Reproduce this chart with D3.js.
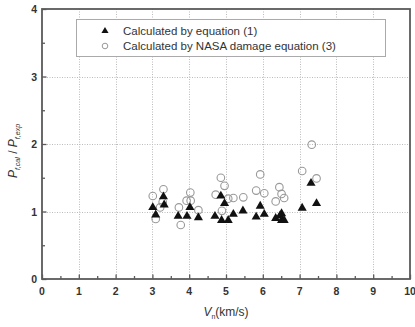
<!DOCTYPE html>
<html>
<head>
<meta charset="utf-8">
<script src="https://cdn.jsdelivr.net/npm/d3@7"></script>
<style>
  body { margin: 0; background: #fff; }
  svg { display: block; font-family: "Liberation Sans", Arial, sans-serif; }
</style>
</head>
<body>
<div id="chart"></div>
<script>
// Calculated by equation (1): [Vn, Pcal/Pexp]
const eqPoints = [
    [3.01, 1.06], [3.09, 0.95], [3.30, 1.22], [3.32, 1.10], [3.70, 0.93],
    [3.94, 0.93], [4.02, 1.06], [4.25, 0.91], [4.70, 0.93], [4.86, 1.23],
    [4.96, 1.12], [4.88, 0.87], [5.06, 0.87], [5.20, 0.96], [5.46, 1.01],
    [5.82, 0.92], [5.93, 1.08], [6.04, 0.96], [6.35, 0.90], [6.47, 0.94],
    [6.51, 0.97], [6.51, 0.87], [6.58, 0.87], [7.07, 1.05], [7.31, 1.42],
    [7.46, 1.12]
];
// Calculated by NASA damage equation (3)
const nasaPoints = [
    [3.01, 1.23], [3.09, 0.89], [3.21, 1.06], [3.28, 1.14], [3.30, 1.33],
    [3.72, 1.06], [3.77, 0.80], [3.93, 1.16], [4.03, 1.28], [4.04, 1.16],
    [4.25, 1.02], [4.72, 1.25], [4.86, 1.50], [4.96, 1.38], [4.89, 1.01],
    [5.06, 1.19], [5.20, 1.20], [5.47, 1.21], [5.82, 1.31], [5.93, 1.55],
    [6.04, 1.27], [6.35, 1.15], [6.45, 1.36], [6.51, 1.26], [6.58, 1.20],
    [7.07, 1.60], [7.33, 1.99], [7.46, 1.49]
];
const xTicks = [0, 1, 2, 3, 4, 5, 6, 7, 8, 9, 10];
const yTicks = [0, 1, 2, 3, 4];
const legendLabels = ["Calculated by equation (1)", "Calculated by NASA damage equation (3)"];

const width = 415, height = 327;
const marginLeft = 42, marginRight = 5, marginTop = 9, marginBottom = 48;
const frameColor = "#5a5a5a";
const textColor = "#333";

const x = d3.scaleLinear().domain([0, 10]).range([marginLeft, width - marginRight]);
const y = d3.scaleLinear().domain([0, 4]).range([height - marginBottom, marginTop]);

const svg = d3.select("#chart").append("svg")
    .attr("width", width)
    .attr("height", height)
    .attr("viewBox", [0, 0, width, height]);

// dotted grid
svg.append("g")
    .attr("stroke", "#bbb")
    .attr("stroke-width", 1)
    .attr("stroke-dasharray", "1,1.5")
    .call(g => g.append("g")
        .selectAll("line")
        .data(xTicks.slice(1, -1))
        .join("line")
        .attr("x1", d => Math.round(x(d)) + 0.5)
        .attr("x2", d => Math.round(x(d)) + 0.5)
        .attr("y1", y(4))
        .attr("y2", y(0)))
    .call(g => g.append("g")
        .selectAll("line")
        .data(yTicks.slice(1, -1))
        .join("line")
        .attr("y1", d => Math.round(y(d)) + 0.5)
        .attr("y2", d => Math.round(y(d)) + 0.5)
        .attr("x1", x(0))
        .attr("x2", x(10)));

// bottom axis, ticks pointing inward
const xAxis = svg.append("g")
    .attr("transform", `translate(0,${y(0)})`);
xAxis.call(d3.axisBottom(x).tickValues(d3.range(0, 10.01, 0.5)).tickSize(-4).tickFormat(""))
    .call(g => g.select(".domain").remove())
    .call(g => g.selectAll(".tick line").attr("stroke", frameColor).attr("stroke-width", 1.3)
        .attr("y2", d => Number.isInteger(d) ? -4.5 : -3));
svg.append("g")
    .attr("fill", textColor)
    .attr("font-size", 10.5)
    .attr("font-weight", "bold")
    .attr("text-anchor", "middle")
    .selectAll("text")
    .data(xTicks)
    .join("text")
    .attr("x", d => x(d))
    .attr("y", y(0) + 16)
    .text(d => d);

// left axis
const yAxis = svg.append("g")
    .attr("transform", `translate(${x(0)},0)`);
yAxis.call(d3.axisLeft(y).tickValues(d3.range(0, 4.01, 0.5)).tickSize(-4).tickFormat(""))
    .call(g => g.select(".domain").remove())
    .call(g => g.selectAll(".tick line").attr("stroke", frameColor).attr("stroke-width", 1.3)
        .attr("x2", d => Number.isInteger(d) ? 4.5 : 3));
svg.append("g")
    .attr("fill", textColor)
    .attr("font-size", 10.5)
    .attr("font-weight", "bold")
    .attr("text-anchor", "end")
    .selectAll("text")
    .data(yTicks)
    .join("text")
    .attr("x", x(0) - 5)
    .attr("y", d => y(d) + 4)
    .text(d => d);

// frame
svg.append("rect")
    .attr("x", x(0))
    .attr("y", y(4))
    .attr("width", x(10) - x(0))
    .attr("height", y(0) - y(4))
    .attr("fill", "none")
    .attr("stroke", frameColor)
    .attr("stroke-width", 1.8);

// markers
const tri = d3.symbol().type(d3.symbolTriangle).size(36);
svg.append("g")
    .attr("fill", "none")
    .attr("stroke", "#999")
    .attr("stroke-width", 1.1)
    .selectAll("circle")
    .data(nasaPoints)
    .join("circle")
    .attr("cx", d => x(d[0]))
    .attr("cy", d => y(d[1]))
    .attr("r", 3.8);

svg.append("g")
    .attr("fill", "#111")
    .selectAll("path")
    .data(eqPoints)
    .join("path")
    .attr("transform", d => `translate(${x(d[0])},${y(d[1])})`)
    .attr("d", tri);

// legend
const legend = svg.append("g");
legend.append("rect")
    .attr("x", 76.5)
    .attr("y", 19.5)
    .attr("width", 309)
    .attr("height", 37)
    .attr("fill", "#fff")
    .attr("stroke", "#aaa")
    .attr("stroke-width", 1);
legend.append("path")
    .attr("transform", "translate(105,31)")
    .attr("fill", "#111")
    .attr("d", d3.symbol().type(d3.symbolTriangle).size(22));
legend.append("circle")
    .attr("cx", 105)
    .attr("cy", 46)
    .attr("r", 2.8)
    .attr("fill", "none")
    .attr("stroke", "#999")
    .attr("stroke-width", 1);
legend.selectAll("text")
    .data(legendLabels)
    .join("text")
    .attr("x", 123)
    .attr("y", (d, i) => 35 + i * 15)
    .attr("fill", textColor)
    .attr("font-size", 11.5)
    .text(d => d);

// axis titles
const xt = svg.append("text")
    .attr("x", x(5))
    .attr("y", 316)
    .attr("text-anchor", "middle")
    .attr("fill", textColor)
    .attr("font-size", 12);
xt.append("tspan").attr("font-style", "italic").text("V");
xt.append("tspan").attr("font-size", 7).attr("dy", 3).text("n");
xt.append("tspan").attr("dy", -3).text("(km/s)");

const yt = svg.append("text")
    .attr("transform", `translate(17,151) rotate(-90)`)
    .attr("text-anchor", "middle")
    .attr("fill", textColor)
    .attr("font-size", 12);
yt.append("tspan").attr("font-style", "italic").text("P");
yt.append("tspan").attr("font-size", 7).attr("dy", 3).attr("font-style", "italic").text("f,cal");
yt.append("tspan").attr("dy", -3).text(" / ");
yt.append("tspan").attr("font-style", "italic").text("P");
yt.append("tspan").attr("font-size", 7).attr("dy", 3).attr("font-style", "italic").text("f,exp");
</script>
</body>
</html>
